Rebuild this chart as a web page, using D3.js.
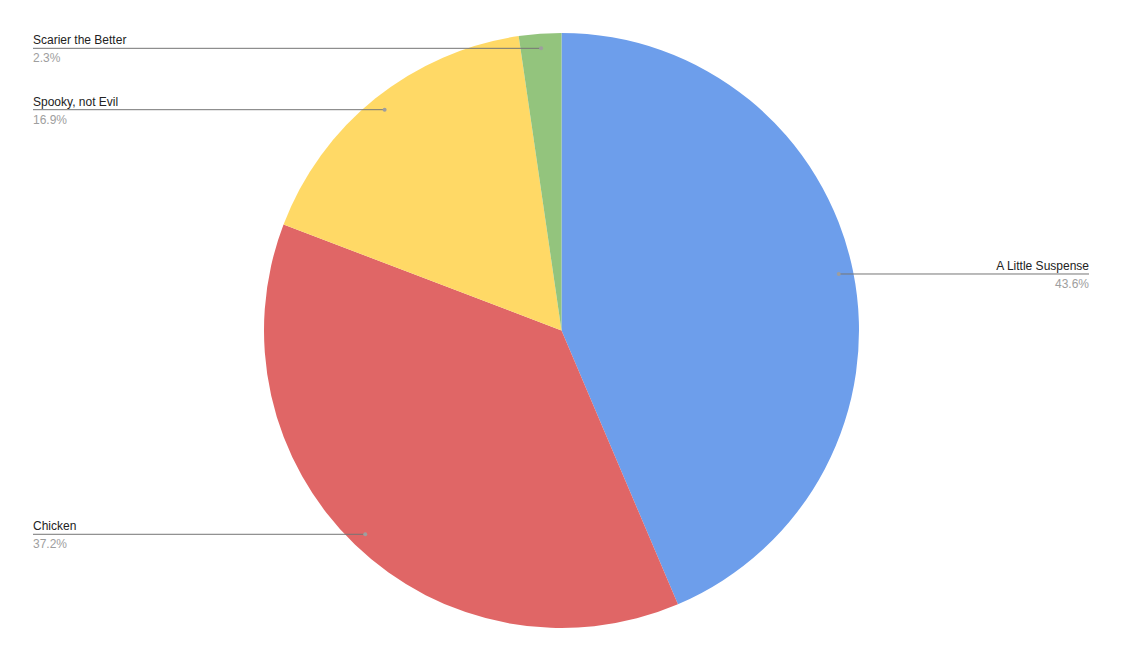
<!DOCTYPE html>
<html>
<head>
<meta charset="utf-8">
<script src="https://cdn.jsdelivr.net/npm/d3@7"></script>
<style>
html,body{margin:0;padding:0;background:#fff;}
svg{display:block;font-family:Arial,"Liberation Sans",sans-serif;}
</style>
</head>
<body>
<svg id="chart" width="1123" height="661"></svg>
<script>
const categories = ["A Little Suspense", "Chicken", "Spooky, not Evil", "Scarier the Better"];
const values = [43.6, 37.2, 16.9, 2.3];
const colors = ["#6d9eeb", "#e06666", "#ffd966", "#93c47d"];

const W = 1123, H = 661;
const cx = 561.5, cy = 330.5, R = 297.5;
const svg = d3.select("#chart");

const data = categories.map((c, i) => ({name: c, value: values[i], color: colors[i]}));
const pie = d3.pie().sort(null).value(d => d.value);
const arcs = pie(data);
const arc = d3.arc().innerRadius(0).outerRadius(R);

const g = svg.append("g").attr("transform", `translate(${cx},${cy})`);
g.selectAll("path").data(arcs).join("path")
  .attr("d", arc)
  .attr("fill", d => d.data.color);

const fmt = d3.format(".1f");
const rDot = R * 0.951;
const leftX = 33, rightX = 1089;

arcs.forEach(a => {
  const mid = (a.startAngle + a.endAngle) / 2;
  const px = cx + rDot * Math.sin(mid);
  const py = cy - rDot * Math.cos(mid);
  const right = Math.sin(mid) > 0;
  const ex = right ? rightX : leftX;
  svg.append("line")
    .attr("x1", px).attr("y1", py).attr("x2", ex).attr("y2", py)
    .attr("stroke", "#757575").attr("stroke-width", 1);
  svg.append("circle").attr("cx", px).attr("cy", py).attr("r", 2).attr("fill", "#9e9e9e");
  svg.append("text")
    .attr("x", ex).attr("y", py - 4)
    .attr("text-anchor", right ? "end" : "start")
    .attr("font-size", 12).attr("fill", "#222")
    .text(a.data.name);
  svg.append("text")
    .attr("x", ex).attr("y", py + 14)
    .attr("text-anchor", right ? "end" : "start")
    .attr("font-size", 12).attr("fill", "#9e9e9e")
    .text(fmt(a.data.value) + "%");
});
</script>
</body>
</html>
